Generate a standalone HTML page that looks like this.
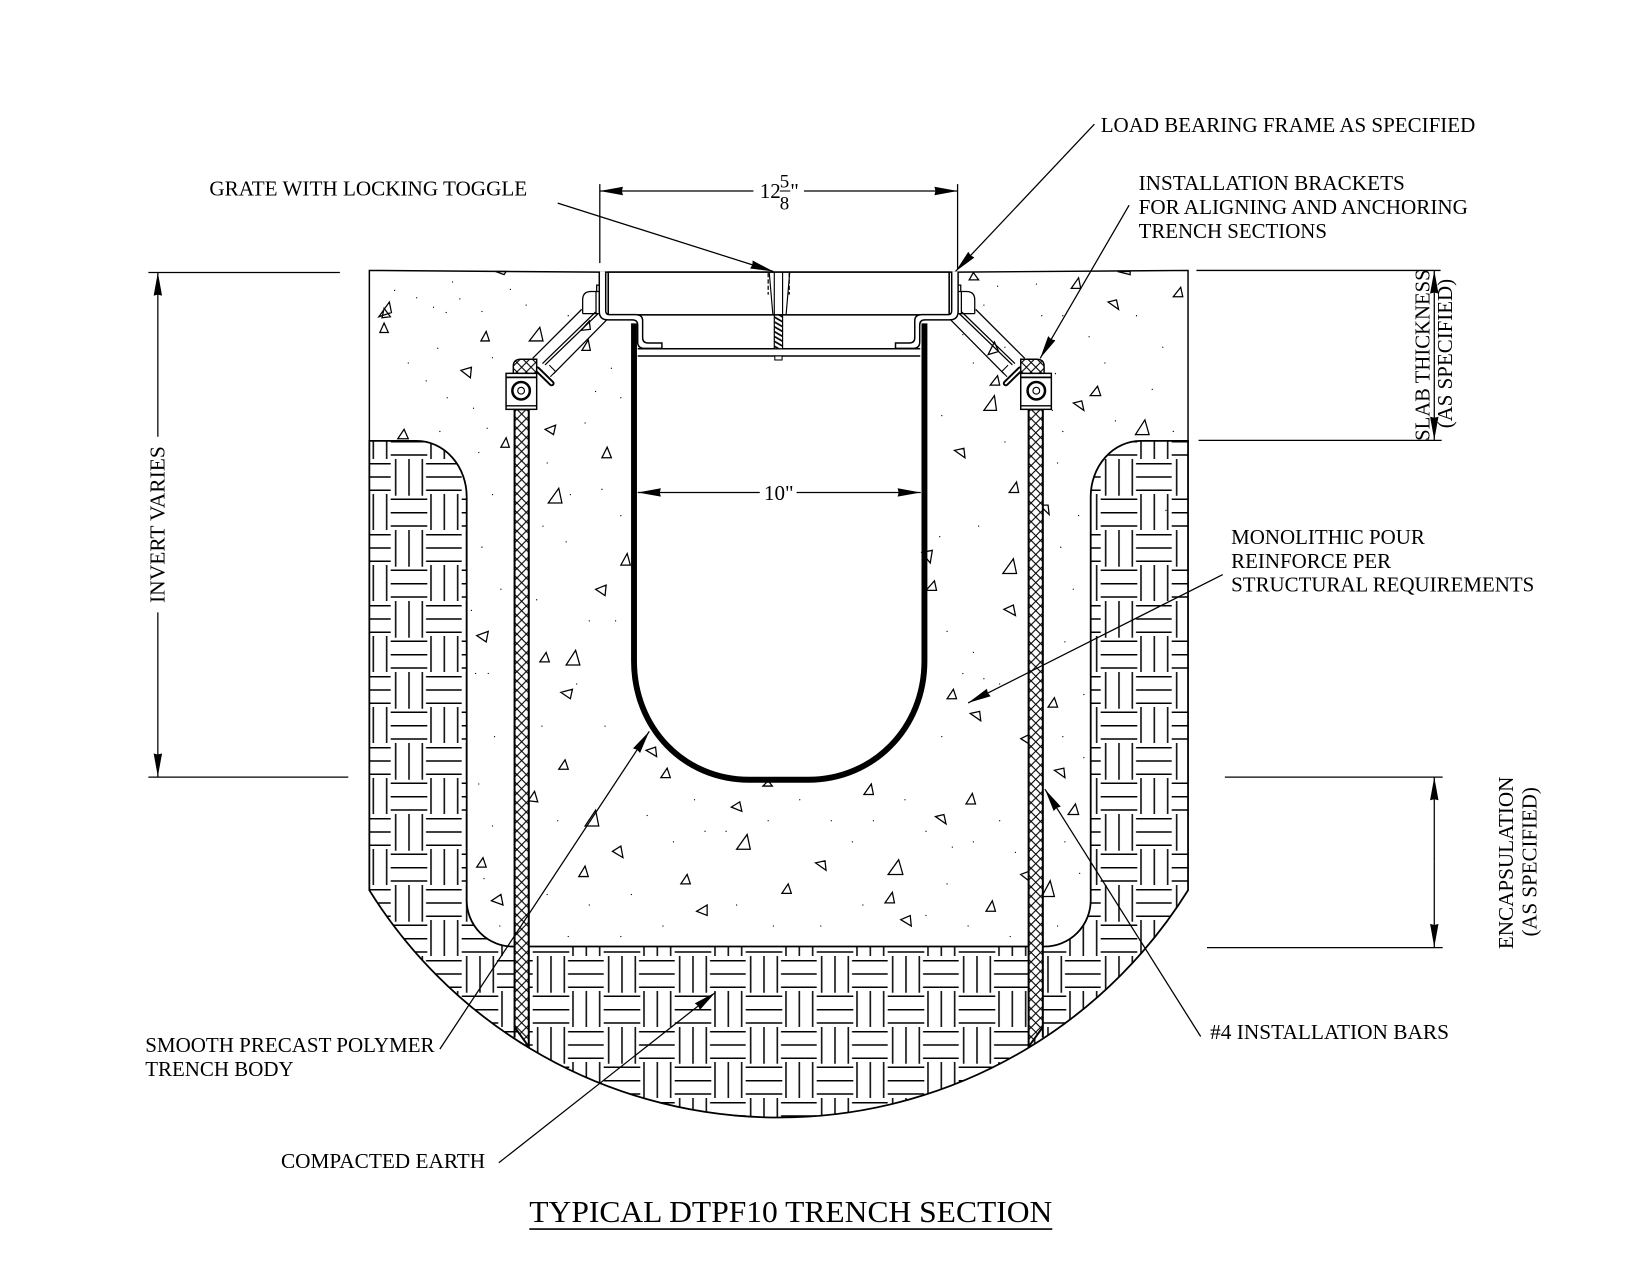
<!DOCTYPE html>
<html lang="en">
<head>
<meta charset="utf-8">
<title>Typical DTPF10 Trench Section</title>
<style>
html,body{margin:0;padding:0;background:#fff;width:1650px;height:1275px;overflow:hidden}
svg{display:block}
text{font-family:"Liberation Serif",serif;font-size:20px;fill:#000;stroke:none}
</style>
</head>
<body>
<svg xmlns="http://www.w3.org/2000/svg" width="1650" height="1275" viewBox="0 0 1568 1211.64">
<defs>
<pattern id="weave" patternUnits="userSpaceOnUse" x="0" y="0" width="71" height="71" patternTransform="scale(.9503) translate(390.7 459)">
<path d="M5 0V36.7M18.3 0V36.7M31.6 0V36.7M35.3 4.7H71M35.3 18H71M35.3 31.3H71M40.3 35V71M53.6 35V71M67 35V71M0 40.3H36.6M0 53.7H36.6M0 67H36.6" stroke="#000" stroke-width="1.5" fill="none"/>
</pattern>
<pattern id="rebar" patternUnits="userSpaceOnUse" x="491.25" y="389" width="8.9" height="8.9">
<rect width="8.9" height="8.9" fill="#fff"/>
<path d="M0 0L8.9 8.9M8.9 0L0 8.9" stroke="#000" stroke-width="1.05" fill="none"/>
</pattern>
<pattern id="hatch" patternUnits="userSpaceOnUse" width="4" height="4" patternTransform="rotate(30)">
<rect width="4" height="4" fill="#fff"/><path d="M0 1H4" stroke="#000" stroke-width="1.6"/>
</pattern>
<marker id="arr" markerUnits="userSpaceOnUse" markerWidth="24" markerHeight="10" refX="22" refY="5" orient="auto">
<path d="M0 1L22 5L0 9L1 5Z" fill="#000"/>
</marker>
<g id="side">
<!-- rebar -->
<path d="M489 389H502.5V994.7L489 976Z" fill="url(#rebar)"/>
<path d="M489 389H502.5M489 389V986M502.5 389V995.5M489 976L502.5 994.7" stroke="#000" stroke-width="1.9" fill="none"/>
<!-- bracket -->
<path d="M552.8 294L506.2 340.5M576.5 304L525.8 355.4" stroke="#000" stroke-width="1.2" fill="none"/>
<path d="M568.6 297.8L517.9 346.8M566 296.5L515.5 345.5" stroke="#000" stroke-width="1.2" fill="none"/>
<path d="M522 347L528 353L523 358" stroke="#000" stroke-width="1" fill="none"/>
<path d="M553.7 298V285Q553.7 277 561.5 277H569.5M566.4 277V298M553.7 298H569.5M567 277V271H569.5" stroke="#000" stroke-width="1.2" fill="none"/>
<path d="M510.6 351L524.2 364.3" stroke="#000" stroke-width="5.6" stroke-linecap="round"/>
<path d="M510.6 351L524.2 364.3" stroke="#fff" stroke-width="1.9" stroke-linecap="round"/>
<!-- clamp -->
<path d="M487.8 355V348Q487.8 341.4 495 341.4H510V355Z" fill="url(#rebar)" stroke="#000" stroke-width="1.4"/>
<rect x="480.9" y="354.8" width="29.1" height="34.2" fill="#fff" stroke="#000" stroke-width="1.4"/>
<path d="M480.9 358.6H510" stroke="#000" stroke-width="1.6"/>
<path d="M480.9 385.6H510" stroke="#000" stroke-width="1.3"/>
<circle cx="495.2" cy="371.3" r="8.3" fill="#fff" stroke="#000" stroke-width="2.4"/>
<circle cx="495.2" cy="371.3" r="3.2" fill="#fff" stroke="#000" stroke-width="1.1"/>
<!-- frame sheet -->
<path d="M569.5 258V296Q569.5 304 578 304H601Q606 304 606 309V325Q606 331 612 331H629V326H616Q610.7 326 610.7 321V305Q610.7 299 604 299H578.5Q575.6 299 575.6 295V258" fill="#fff" stroke="#000" stroke-width="1.4"/>
</g>
</defs>

<!-- earth hatching -->
<path d="M351 419H396A47.5 53 0 0 1 443.5 472V855A44 44 0 0 0 488 899.5H992A44 44 0 0 0 1036.5 855V472A47.5 53 0 0 1 1084 419H1129V846A458.3 458.3 0 0 1 351 846Z" fill="url(#weave)" stroke="#000" stroke-width="1.7"/>

<!-- slab outline -->
<path d="M351 419V257L570 258.6H910L1129 257V419" fill="none" stroke="#000" stroke-width="1.4"/>

<!-- aggregate dots -->
<path stroke="#000" stroke-width="1.2" stroke-linecap="round" fill="none" d="M375 276h0M396 283h0M412 292h0M424 297h0M437 284h0M416 331h0M388 345h0M405 362h0M425 378h0M458 296h0M468 340h0M450 388h0M463 407h0M418 410h0M455 430h0M468 470h0M458 520h0M476 560h0M452 640h0M464 640h0M470 700h0M455 745h0M468 785h0M460 835h0M475 880h0M448 580h0M520 440h0M542 470h0M556 402h0M566 372h0M581 350h0M590 378h0M572 465h0M590 490h0M516 500h0M538 515h0M560 590h0M585 590h0M510 570h0M548 650h0M575 690h0M515 690h0M530 780h0M520 850h0M560 860h0M600 850h0M640 800h0M670 790h0M615 775h0M660 760h0M690 790h0M730 780h0M760 760h0M790 780h0M810 800h0M830 780h0M860 760h0M880 790h0M905 805h0M925 800h0M900 840h0M880 870h0M820 860h0M780 880h0M735 880h0M700 860h0M630 880h0M590 890h0M540 890h0M950 780h0M965 810h0M920 880h0M960 890h0M895 700h0M915 640h0M935 645h0M950 650h0M900 600h0M925 620h0M893 510h0M930 500h0M955 420h0M895 395h0M925 345h0M915 318h0M955 330h0M985 270h0M1010 300h0M1035 320h0M1080 300h0M1105 330h0M1095 370h0M1060 400h0M1010 410h0M1108 485h0M1005 440h0M1025 490h0M1008 520h0M1020 560h0M1012 610h0M1030 660h0M1010 700h0M1030 720h0M1012 800h0M1026 830h0M1005 880h0M935 290h0M948 272h0M1050 345h0M1003 355h0M570 280h0M540 300h0M500 290h0M485 275h0M430 268h0M1115 410h0M1000 390h0M990 300h0"/>

<!-- aggregate triangles -->
<path fill="none" stroke="#000" stroke-width="1.2" stroke-linejoin="miter" d="M360 301l12-4-2-10zM365 293l6 8-8 1zM361 316h8l-4-9zM457 324h8l-3-9zM503 324h13l-3-13zM438 352l10-3-1 10zM553 333h8l-2-10zM552 314l9-1-1-8zM518 408l10-4-2 9zM476 425h8l-3-9zM572 435h9l-4-10zM378 417h10l-4-9zM521 478h13l-3-14zM590 537h9l-3-11zM566 560l10-4-1 10zM453 604l11-4-2 10zM513 629h9l-3-9zM538 632h13l-4-14zM533 658l11-3-2 9zM531 731h9l-3-9zM502 761l9 1-3-10zM614 713l10 6-1-9zM628 739h9l-3-9zM556 785h13l-3-15zM582 809l10 6-2-11zM550 833h9l-3-10zM453 824h9l-3-9zM467 856l11 4-2-10zM647 840h9l-3-9zM662 866l10 4 0-10zM700 807h13l-3-14zM695 767l10 4-2-9zM725 747h9l-4-5zM775 820l10 7-1-9zM743 849h9l-3-9zM844 831h14l-4-14zM841 858h9l-2-10zM856 874l10 6-1-10zM821 755h9l-2-10zM889 776l10 7-2-9zM918 764h9l-3-10zM937 866h9l-3-10zM970 831l9 7-1-10zM990 852h12l-4-15zM1015 774h10l-3-10zM1002 732l10 7-1-9zM970 702l8-4 0 9zM996 672h9l-3-9zM922 678l10 7-1-9zM900 664h9l-3-9zM954 579l11 6-2-10zM953 545h13l-3-14zM880 561h10l-2-9zM876 525l8 10 2-12zM959 468h9l-2-10zM988 480l9 9-1-9zM907 428l10 7-1-9zM1079 413h13l-4-14zM1020 383l10 7-2-9zM1036 376h10l-3-9zM935 390h12l-2-14zM941 366h9l-2-9zM939 337l10-3-4-9zM1053 287l10 7-2-9zM1018 274h9l-2-10zM1115 282h9l-2-9zM921 266h9l-5-7zM1062 258l12 3 0-3zM471 258l8 3 2-3z"/>

<!-- grate -->
<rect x="578" y="258.6" width="324" height="40.6" fill="#fff" stroke="#000" stroke-width="1.5"/>
<path d="M606 331.4H874.5M606 338.3H874.5" stroke="#000" stroke-width="1.4" fill="none"/>
<rect x="735.8" y="299.4" width="7.9" height="32" fill="url(#hatch)" stroke="#000" stroke-width="1.1"/>
<rect x="736.3" y="338.3" width="6.9" height="3.8" fill="#fff" stroke="#000" stroke-width="1"/>
<path d="M731 258.6L734.5 299.4M735.8 258.6V299.4M743.7 258.6V299.4M750.5 258.6L747 299.4" stroke="#000" stroke-width="1.1" fill="none"/>
<path d="M730 259.5V280M750 259.5V280" stroke="#000" stroke-width="1.2" stroke-dasharray="4 2" fill="none"/>

<!-- trench wall -->
<path d="M602.5 307.3V628C602.5 692 650 741 712 741H768C830 741 878.5 692 878.5 628V307.3" fill="none" stroke="#000" stroke-width="5.6"/>

<!-- mirrored hardware -->
<use href="#side"/>
<use href="#side" transform="translate(1480 0) scale(-1 1)"/>

<!-- dimension and leader lines -->
<g fill="none" stroke="#000" stroke-width="1.2">
<path d="M570 175V250M910 175V256"/>
<path d="M141 259H323M141 738.5H331M1137 257H1369M1139 418.5H1370M1164 738.5H1371M1147 900.5H1371"/>
<path d="M716 181.5H570" marker-end="url(#arr)"/>
<path d="M764 181.5H910" marker-end="url(#arr)"/>
<path d="M722 468H606" marker-end="url(#arr)"/>
<path d="M757 468H875" marker-end="url(#arr)"/>
<path d="M150 415V259" marker-end="url(#arr)"/>
<path d="M150 582V738" marker-end="url(#arr)"/>
<path d="M1363 337V257" marker-end="url(#arr)"/>
<path d="M1363 337V418" marker-end="url(#arr)"/>
<path d="M1363 819V738.5" marker-end="url(#arr)"/>
<path d="M1363 819V900" marker-end="url(#arr)"/>
<path d="M1040 118L908 258" marker-end="url(#arr)"/>
<path d="M530 193L735 258" marker-end="url(#arr)"/>
<path d="M1073 195L988.5 340.5" marker-end="url(#arr)"/>
<path d="M1162 546L920 668" marker-end="url(#arr)"/>
<path d="M418 997L617 695" marker-end="url(#arr)"/>
<path d="M474 1105L680 943" marker-end="url(#arr)"/>
<path d="M1141 985L993 750" marker-end="url(#arr)"/>
</g>

<!-- labels -->
<text x="1046" y="125.5" textLength="356" lengthAdjust="spacingAndGlyphs">LOAD BEARING FRAME AS SPECIFIED</text>
<text x="199" y="186" textLength="302" lengthAdjust="spacingAndGlyphs">GRATE WITH LOCKING TOGGLE</text>
<text x="1082" y="180.5" textLength="253" lengthAdjust="spacingAndGlyphs">INSTALLATION BRACKETS</text>
<text x="1082" y="203.5" textLength="313" lengthAdjust="spacingAndGlyphs">FOR ALIGNING AND ANCHORING</text>
<text x="1082" y="226" textLength="179" lengthAdjust="spacingAndGlyphs">TRENCH SECTIONS</text>
<text x="1170" y="517" textLength="184" lengthAdjust="spacingAndGlyphs">MONOLITHIC POUR</text>
<text x="1170" y="540" textLength="152" lengthAdjust="spacingAndGlyphs">REINFORCE PER</text>
<text x="1170" y="562" textLength="288" lengthAdjust="spacingAndGlyphs">STRUCTURAL REQUIREMENTS</text>
<text x="1150" y="987.5" textLength="227" lengthAdjust="spacingAndGlyphs">#4 INSTALLATION BARS</text>
<text x="138" y="999.5" textLength="275" lengthAdjust="spacingAndGlyphs">SMOOTH PRECAST POLYMER</text>
<text x="138" y="1022.5" textLength="141" lengthAdjust="spacingAndGlyphs">TRENCH BODY</text>
<text x="267" y="1110" textLength="194" lengthAdjust="spacingAndGlyphs">COMPACTED EARTH</text>
<text x="726" y="475">10"</text>
<text x="722" y="188">12</text>
<text x="741" y="178" style="font-size:18px">5</text>
<text x="741" y="199" style="font-size:18px">8</text>
<path d="M741 181.5H751" stroke="#000" stroke-width="1"/>
<text x="751" y="188">"</text>
<text x="503" y="1161.5" textLength="497" lengthAdjust="spacingAndGlyphs" style="font-size:29px">TYPICAL DTPF10 TRENCH SECTION</text>
<path d="M503 1168H1000" stroke="#000" stroke-width="1.5"/>
<text transform="translate(156.5 573) rotate(-90)" textLength="149" lengthAdjust="spacingAndGlyphs">INVERT VARIES</text>
<text transform="translate(1358.5 419) rotate(-90)" textLength="163" lengthAdjust="spacingAndGlyphs">SLAB THICKNESS</text>
<text transform="translate(1380 407) rotate(-90)" textLength="142" lengthAdjust="spacingAndGlyphs">(AS SPECIFIED)</text>
<text transform="translate(1438 902) rotate(-90)" textLength="164" lengthAdjust="spacingAndGlyphs">ENCAPSULATION</text>
<text transform="translate(1460 890) rotate(-90)" textLength="142" lengthAdjust="spacingAndGlyphs">(AS SPECIFIED)</text>
</svg>
</body>
</html>
